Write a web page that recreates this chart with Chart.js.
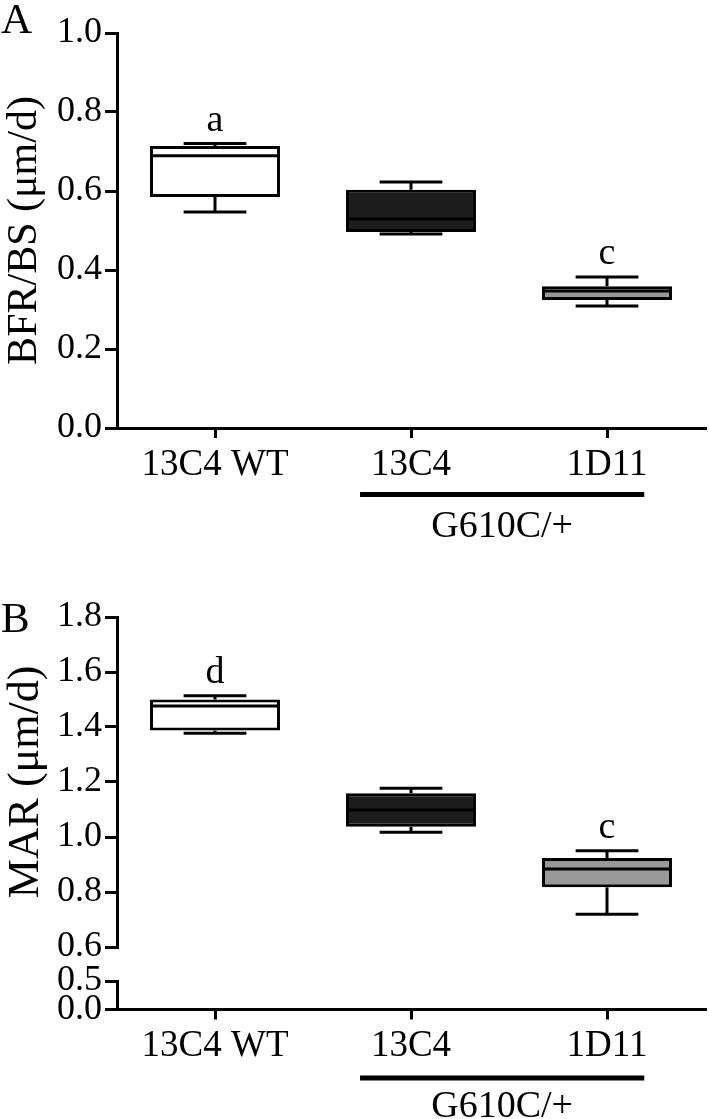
<!DOCTYPE html>
<html>
<head>
<meta charset="utf-8">
<script src="https://cdn.jsdelivr.net/npm/chart.js@4.4.0/dist/chart.umd.min.js"></script>
<style>
  body { margin: 0; background: #fff; }
  canvas { display: block; }
</style>
</head>
<body>
<canvas id="chartA" width="709" height="560"></canvas>
<canvas id="chartB" width="709" height="559"></canvas>
<script>
// categories
const groups = ['13C4 WT', '13C4', '1D11'];
const groupLabel = 'G610C/+';
const boxColors = ['#ffffff', '#1c1c1c', '#999999'];

// panel A - BFR/BS (um/d)
const bfrMin = [0.547, 0.491, 0.309];
const bfrQ1 = [0.585, 0.496, 0.324];
const bfrMedian = [0.689, 0.529, 0.347];
const bfrQ3 = [0.714, 0.603, 0.359];
const bfrMax = [0.720, 0.623, 0.382];
const bfrLetters = ['a', '', 'c'];
const bfrRange = [0, 1.0];
const bfrStep = 0.2;

// panel B - MAR (um/d), broken axis
const marMin = [1.377, 1.017, 0.719];
const marQ1 = [1.387, 1.037, 0.817];
const marMedian = [1.476, 1.098, 0.884];
const marQ3 = [1.500, 1.159, 0.924];
const marMax = [1.514, 1.177, 0.950];
const marLetters = ['d', '', 'c'];
const marRangeTop = [0.6, 1.8];
const marRangeLow = [0, 0.5];
const marStepTop = 0.2;
const marStepLow = 0.5;

Chart.defaults.font.family = '"Liberation Serif", "Times New Roman", serif';
Chart.defaults.color = '#000';

// whiskers, medians and letters on top of the floating bars
const boxPlot = {
  id: 'boxPlot',
  afterDatasetsDraw(chart, args, opts) {
    const ctx = chart.ctx;
    const x = chart.scales.x;
    const y = chart.scales.y;
    const band = x.getPixelForValue(1) - x.getPixelForValue(0);
    const half = band * 0.663 / 2 - 1.5;
    const cap = band * 0.16;
    ctx.save();
    ctx.strokeStyle = '#000';
    ctx.lineWidth = 3;
    const line = (x0, y0, x1, y1) => {
      ctx.beginPath(); ctx.moveTo(x0, y0); ctx.lineTo(x1, y1); ctx.stroke();
    };
    opts.min.forEach((v, i) => {
      const cx = x.getPixelForValue(i);
      const yMin = y.getPixelForValue(opts.min[i]);
      const yQ1 = y.getPixelForValue(opts.q1[i]);
      const yMed = y.getPixelForValue(opts.median[i]);
      const yQ3 = y.getPixelForValue(opts.q3[i]);
      const yMax = y.getPixelForValue(opts.max[i]);
      line(cx, yQ3, cx, yMax);
      line(cx - cap, yMax, cx + cap, yMax);
      line(cx, yQ1, cx, yMin);
      line(cx - cap, yMin, cx + cap, yMin);
      line(cx - half, yMed, cx + half, yMed);
      if (opts.letters[i]) {
        ctx.font = '38px "Liberation Serif"';
        ctx.fillStyle = '#000';
        ctx.textAlign = 'center';
        ctx.textBaseline = 'alphabetic';
        ctx.fillText(opts.letters[i], cx, yMax - 13);
      }
    });
    ctx.restore();
  }
};

// group bar, group label and panel letter
const decorations = {
  id: 'decorations',
  afterDraw(chart, args, opts) {
    const ctx = chart.ctx;
    const x = chart.scales.x;
    const x0 = x.getPixelForValue(opts.span[0]);
    const x1 = x.getPixelForValue(opts.span[1]);
    ctx.save();
    ctx.fillStyle = '#000';
    ctx.fillRect(x0, x.top + opts.barOffset - 2.5, x1 - x0, 5);
    ctx.font = '38px "Liberation Serif"';
    ctx.textAlign = 'center';
    ctx.textBaseline = 'middle';
    ctx.fillText(opts.text, (x0 + x1) / 2, x.top + opts.textOffset);
    ctx.font = '43px "Liberation Serif"';
    ctx.textAlign = 'left';
    ctx.textBaseline = 'alphabetic';
    ctx.fillText(opts.panel, 1, opts.panelY);
    ctx.restore();
  }
};

function xAxis(height) {
  return {
    type: 'category',
    offset: true,
    border: { display: true, color: '#000', width: 3 },
    grid: { offset: false, drawOnChartArea: false, drawTicks: true, tickLength: 10, color: '#000', lineWidth: 3 },
    ticks: { font: { size: 37 }, padding: 5, maxRotation: 0, autoSkip: false },
    afterFit: s => { s.height = height; }
  };
}

function yAxis(range, step, extra) {
  return Object.assign({
    type: 'linear',
    position: 'left',
    min: range[0],
    max: range[1],
    border: { display: true, color: '#000', width: 3 },
    grid: { drawOnChartArea: false, drawTicks: true, tickLength: 12, color: '#000', lineWidth: 3 },
    ticks: { stepSize: step, autoSkip: false, font: { size: 36 }, padding: 3, callback: v => v.toFixed(1) },
    afterFit: s => { s.width = 117; }
  }, extra);
}

function boxDataset(q1, q3) {
  return {
    data: q1.map((v, i) => [v, q3[i]]),
    backgroundColor: boxColors,
    borderColor: '#000',
    borderWidth: 3,
    borderSkipped: false,
    barPercentage: 0.663,
    categoryPercentage: 1
  };
}

const common = {
  responsive: false,
  animation: false,
  plugins: { legend: { display: false }, tooltip: { enabled: false } }
};

new Chart(document.getElementById('chartA'), {
  type: 'bar',
  data: { labels: groups, datasets: [boxDataset(bfrQ1, bfrQ3)] },
  options: Object.assign({}, common, {
    layout: { padding: { top: 33, right: 4, left: 0, bottom: 0 } },
    scales: {
      x: xAxis(132),
      y: yAxis(bfrRange, bfrStep, {
        title: { display: true, text: 'BFR/BS (μm/d)', font: { size: 42 }, padding: { top: 0, bottom: 0 } }
      })
    },
    plugins: Object.assign({}, common.plugins, {
      boxPlot: { min: bfrMin, q1: bfrQ1, median: bfrMedian, q3: bfrQ3, max: bfrMax, letters: bfrLetters },
      decorations: { span: [0.74, 2.19], barOffset: 66.5, textOffset: 99, text: groupLabel, panel: 'A', panelY: 33 }
    })
  }),
  plugins: [boxPlot, decorations]
});

new Chart(document.getElementById('chartB'), {
  type: 'bar',
  data: { labels: groups, datasets: [boxDataset(marQ1, marQ3)] },
  options: Object.assign({}, common, {
    layout: { padding: { top: 57, right: 4, left: 0, bottom: 0 } },
    scales: {
      x: xAxis(109.5),
      y: yAxis(marRangeTop, marStepTop, {
        stack: 'mar', stackWeight: 330, weight: 3,
        title: { display: true, text: 'MAR (μm/d)', font: { size: 44 }, padding: { top: 0, bottom: 0 } }
      }),
      yGap: {
        type: 'linear', position: 'left', stack: 'mar', stackWeight: 34, weight: 2,
        min: 0, max: 1,
        border: { display: false }, grid: { display: false }, ticks: { display: false },
        afterFit: s => { s.width = 117; }
      },
      yLow: yAxis(marRangeLow, marStepLow, { stack: 'mar', stackWeight: 28.5, weight: 1 })
    },
    plugins: Object.assign({}, common.plugins, {
      boxPlot: { min: marMin, q1: marQ1, median: marMedian, q3: marQ3, max: marMax, letters: marLetters },
      decorations: { span: [0.74, 2.19], barOffset: 68.5, textOffset: 98, text: groupLabel, panel: 'B', panelY: 72 }
    })
  }),
  plugins: [boxPlot, decorations]
});
</script>
</body>
</html>
